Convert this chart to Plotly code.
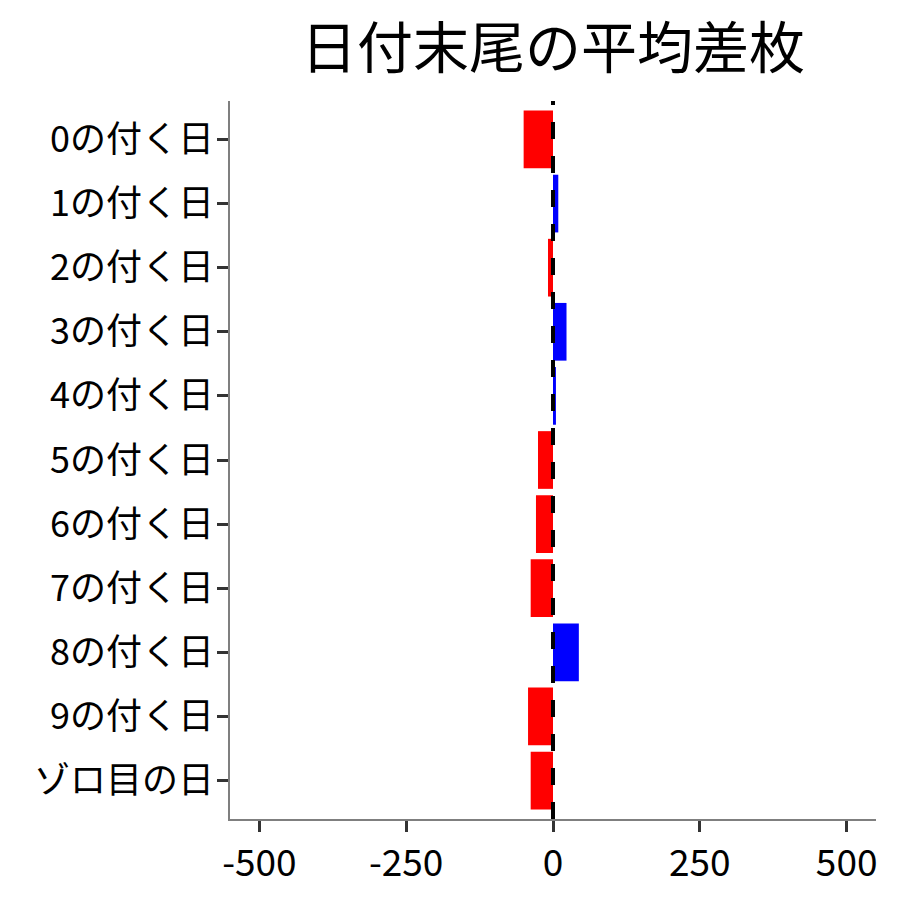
import plotly.graph_objects as go

# 日付末尾ごとの平均差枚
categories = ["0の付く日", "1の付く日", "2の付く日", "3の付く日", "4の付く日",
              "5の付く日", "6の付く日", "7の付く日", "8の付く日", "9の付く日",
              "ゾロ目の日"]
avg_diff = [-50, 9, -8.5, 23, 5, -25.5, -29, -38, 44, -42.5, -38]
x_ticks = [-500, -250, 0, 250, 500]

font_name = "Noto Sans CJK JP"
bar_colors = ["#0000FF" if v > 0 else "#FF0000" for v in avg_diff]

fig = go.Figure()
fig.add_trace(go.Bar(x=avg_diff,
                     y=categories,
                     orientation="h",
                     width=0.9,
                     marker=dict(color=bar_colors, line=dict(width=0)),
                     showlegend=False))

# dashed zero line drawn over the bars
fig.add_shape(type="line", x0=0, x1=0, y0=0, y1=1,
              xref="x", yref="paper",
              line=dict(color="black", width=4, dash="17px,17px"),
              layer="above")

# page body has an 8px margin, so the margins are trimmed to match
fig.update_layout(width=900, height=900,
                  margin=dict(l=222, r=32, t=93, b=89),
                  plot_bgcolor="white",
                  paper_bgcolor="white",
                  font=dict(family=font_name, color="black"),
                  title=dict(text="日付末尾の平均差枚",
                             font=dict(size=56, family=font_name, color="black"),
                             x=0.5, xref="paper", xanchor="center",
                             y=1 - 40/900, yref="container", yanchor="middle"))

fig.update_xaxes(range=[-550, 550],
                 tickvals=x_ticks,
                 ticktext=[str(t) for t in x_ticks],
                 showgrid=False, zeroline=False,
                 showline=True, linecolor="#7f7f7f", linewidth=1.5,
                 ticks="outside", ticklen=11, tickwidth=3, tickcolor="#333333",
                 tickfont=dict(size=37, color="black"))
fig.update_yaxes(type="category",
                 categoryorder="array", categoryarray=categories,
                 range=[10.6, -0.6],
                 showgrid=False, zeroline=False,
                 showline=True, linecolor="#7f7f7f", linewidth=1.5,
                 ticks="outside", ticklen=11, tickwidth=3, tickcolor="#333333",
                 ticklabelstandoff=-4,
                 tickfont=dict(size=36, color="black"))

fig.write_html("out.html")
